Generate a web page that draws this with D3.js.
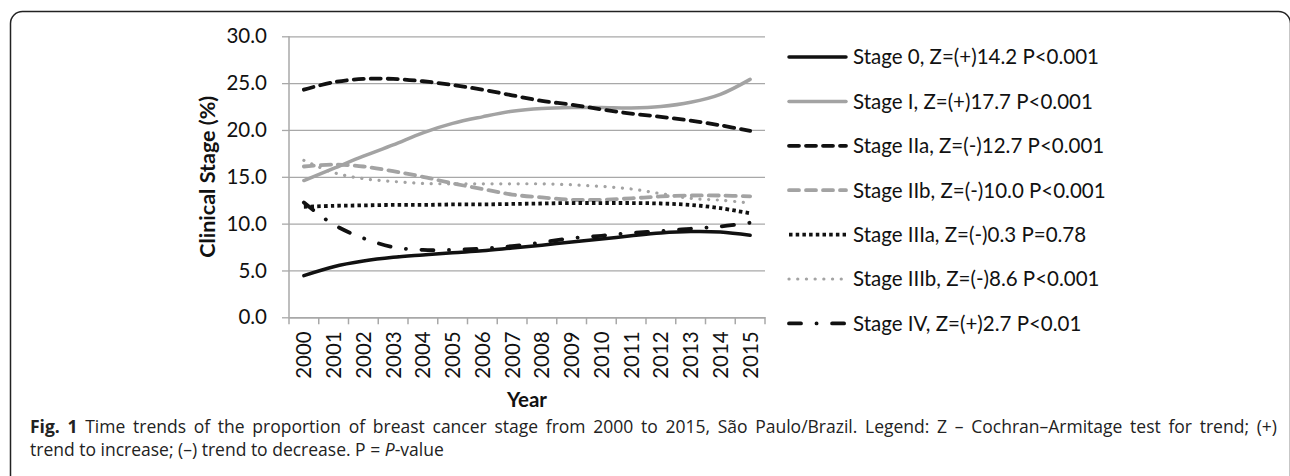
<!DOCTYPE html>
<html>
<head>
<meta charset="utf-8">
<script src="https://cdn.jsdelivr.net/npm/d3@7"></script>
<style>
  html, body { margin: 0; padding: 0; background: #fff; }
  svg { display: block; }
</style>
</head>
<body>
<svg id="chart" width="1290" height="476"></svg>
<script>
const years = ["2000","2001","2002","2003","2004","2005","2006","2007","2008","2009","2010","2011","2012","2013","2014","2015"];
const stage0   = [4.45, 5.4, 6.0, 6.4, 6.66, 6.9, 7.1, 7.4, 7.7, 8.05, 8.35, 8.7, 9.0, 9.15, 9.1, 8.75];
const stageI   = [14.6, 15.9, 17.2, 18.4, 19.7, 20.7, 21.4, 22.0, 22.3, 22.4, 22.4, 22.35, 22.5, 22.95, 23.8, 25.4];
const stageIIa = [24.3, 25.1, 25.45, 25.45, 25.2, 24.8, 24.3, 23.7, 23.1, 22.7, 22.2, 21.75, 21.4, 21.0, 20.5, 19.9];
const stageIIb = [16.1, 16.3, 16.1, 15.6, 15.0, 14.3, 13.7, 13.1, 12.8, 12.55, 12.55, 12.7, 12.9, 13.0, 13.0, 12.9];
const stageIIIa = [11.8, 11.9, 11.95, 12.0, 12.0, 12.05, 12.05, 12.1, 12.15, 12.2, 12.2, 12.2, 12.15, 12.0, 11.65, 11.1];
const stageIIIb = [16.75, 15.45, 14.8, 14.5, 14.3, 14.25, 14.25, 14.25, 14.25, 14.15, 13.97, 13.7, 13.2, 12.7, 12.5, 12.2];
const stageIV  = [12.25, 9.9, 8.45, 7.5, 7.2, 7.2, 7.35, 7.6, 8.0, 8.45, 8.7, 9.0, 9.2, 9.45, 9.7, 10.1];
const seriesLabels = [
  "Stage 0, Z=(+)14.2 P<0.001",
  "Stage I, Z=(+)17.7 P<0.001",
  "Stage IIa, Z=(-)12.7 P<0.001",
  "Stage IIb, Z=(-)10.0 P<0.001",
  "Stage IIIa, Z=(-)0.3 P=0.78",
  "Stage IIIb, Z=(-)8.6 P<0.001",
  "Stage IV, Z=(+)2.7 P<0.01"
];
const yTicks = [0, 5, 10, 15, 20, 25, 30];
const yTitle = "Clinical Stage (%)";
const xTitle = "Year";
const captionBold = "Fig. 1";
const captionLine1 = " Time trends of the proportion of breast cancer stage from 2000 to 2015, São Paulo/Brazil. Legend: Z – Cochran–Armitage test for trend; (+)";
const captionLine2 = "trend to increase; (–) trend to decrease. P = ";

const seriesValues = [stage0, stageI, stageIIa, stageIIb, stageIIIa, stageIIIb, stageIV];
const BLACK = "#111", GRAY = "#a3a3a3";
const styles = [
  {color: BLACK, dash: null, cap: "round", w: 3.5},
  {color: GRAY, dash: null, cap: "round", w: 3.5},
  {color: BLACK, dash: "10,7", cap: "round", w: 3.8},
  {color: GRAY, dash: "10,7", cap: "round", w: 3.8},
  {color: BLACK, dash: "3.5,3.2", cap: "butt", w: 3.8},
  {color: GRAY, dash: "0.1,8.6", cap: "round", w: 3.2},
  {color: BLACK, dash: "12,15.5,0.1,15.5", cap: "round", w: 3.8}
];

const FONT = "Lato, 'Open Sans', sans-serif";
const FS = 20.5;
const svg = d3.select("#chart");

svg.append("rect")
  .attr("x", 10.5).attr("y", 11.5).attr("width", 1280).attr("height", 520)
  .attr("rx", 12).attr("ry", 12)
  .attr("fill", "none").attr("stroke", "#222").attr("stroke-width", 1.5);

const plot = {left: 289, right: 765, top: 36.3, bottom: 317.3};
const x = d3.scaleBand().domain(years).range([plot.left, plot.right]);
const y = d3.scaleLinear().domain([0, 30]).range([plot.bottom, plot.top]);

const GRID = "#a8a8a8";
const yAxis = d3.axisLeft(y).tickValues(yTicks).tickSize(-(plot.right - plot.left)).tickPadding(15)
  .tickFormat(d3.format(".1f"));
const gy = svg.append("g").attr("transform", `translate(${plot.left},0)`).call(yAxis);
gy.select(".domain").remove();
gy.selectAll(".tick line").attr("stroke", GRID).attr("stroke-width", 1.3);
gy.selectAll(".tick").append("line").attr("x1", -7).attr("x2", 0).attr("stroke", GRID).attr("stroke-width", 1.3);
gy.selectAll(".tick text").attr("font-family", FONT).attr("font-size", FS).attr("fill", "#111")
  .attr("x", -22);

svg.append("line").attr("x1", plot.left).attr("x2", plot.left).attr("y1", plot.top).attr("y2", plot.bottom)
  .attr("stroke", GRID).attr("stroke-width", 1.5);

const xAxis = d3.axisBottom(x).tickSize(0).tickFormat(d => d);
const gx = svg.append("g").attr("transform", `translate(0,${plot.bottom})`).call(xAxis);
gx.select(".domain").attr("stroke", GRID).attr("stroke-width", 1.5);
gx.selectAll(".tick text")
  .attr("font-family", FONT).attr("font-size", FS).attr("fill", "#111")
  .attr("transform", "rotate(-90)")
  .attr("text-anchor", "end")
  .attr("x", -14).attr("y", 0).attr("dy", "0.36em");
const bounds = years.map(d => x(d)).concat([x(years[years.length - 1]) + x.bandwidth()]);
svg.append("g").selectAll("line").data(bounds).join("line")
  .attr("x1", d => d).attr("x2", d => d)
  .attr("y1", plot.bottom).attr("y2", plot.bottom + 7)
  .attr("stroke", GRID).attr("stroke-width", 1.5);

const line = d3.line()
  .x((d, i) => x(years[i]) + x.bandwidth() / 2)
  .y(d => y(d))
  .curve(d3.curveCatmullRom.alpha(0.5));

const order = [1, 0, 3, 5, 4, 2, 6];
order.forEach(k => {
  const s = styles[k];
  svg.append("path")
    .attr("d", line(seriesValues[k]))
    .attr("fill", "none")
    .attr("stroke", s.color)
    .attr("stroke-width", s.w)
    .attr("stroke-linecap", s.cap)
    .attr("stroke-linejoin", "round")
    .attr("stroke-dasharray", s.dash);
});

const legend = svg.append("g");
seriesLabels.forEach((lab, i) => {
  const s = styles[i];
  const ly = 57 + i * 44.4;
  legend.append("line")
    .attr("x1", 789).attr("x2", 846).attr("y1", ly).attr("y2", ly)
    .attr("stroke", s.color).attr("stroke-width", s.w)
    .attr("stroke-linecap", s.cap)
    .attr("stroke-dasharray", s.dash);
  legend.append("text")
    .attr("x", 853).attr("y", ly).attr("dy", "0.36em")
    .attr("font-family", FONT).attr("font-size", FS).attr("fill", "#111")
    .text(lab);
});

svg.append("text")
  .attr("transform", `translate(215,${(plot.top + plot.bottom) / 2}) rotate(-90)`)
  .attr("text-anchor", "middle")
  .attr("font-family", FONT).attr("font-size", 21.5).attr("font-weight", "bold").attr("fill", "#111")
  .text(yTitle);
svg.append("text")
  .attr("x", (plot.left + plot.right) / 2).attr("y", 407)
  .attr("text-anchor", "middle")
  .attr("font-family", FONT).attr("font-size", FS).attr("font-weight", "bold").attr("fill", "#111")
  .text(xTitle);

// caption (justified first line)
const CAP = "'Open Sans', sans-serif";
const CX = 30, CFS = 17.5, CEND = 1277;
const c1 = svg.append("text").attr("x", CX).attr("y", 433)
  .attr("font-family", CAP).attr("font-size", CFS).attr("fill", "#222");
c1.append("tspan").attr("font-weight", "bold").text(captionBold);
c1.append("tspan").text(captionLine1);
const natural = c1.node().getComputedTextLength();
const target = CEND - CX;
if (natural < target) {
  const nSpaces = (captionBold + captionLine1).split(" ").length - 1;
  c1.attr("word-spacing", (target - natural) / nSpaces);
} else {
  c1.attr("textLength", target).attr("lengthAdjust", "spacingAndGlyphs");
}
const c2 = svg.append("text").attr("x", CX).attr("y", 456)
  .attr("font-family", CAP).attr("font-size", CFS).attr("fill", "#222");
c2.append("tspan").text(captionLine2);
c2.append("tspan").attr("font-style", "italic").text("P");
c2.append("tspan").text("-value");
</script>
</body>
</html>
